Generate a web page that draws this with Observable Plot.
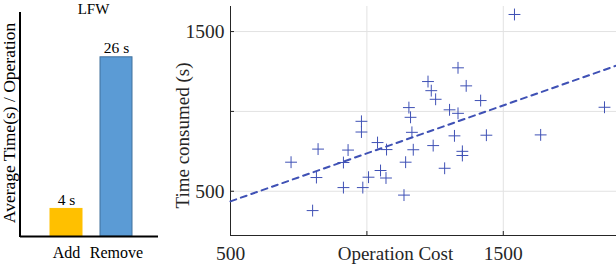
<!DOCTYPE html>
<html><head><meta charset="utf-8">
<script src="https://cdn.jsdelivr.net/npm/d3@7"></script>
<script src="https://cdn.jsdelivr.net/npm/@observablehq/plot@0.6"></script>
<style>
html,body{margin:0;padding:0;background:#fff;}
#wrap{position:relative;width:616px;height:264px;overflow:hidden;font-family:"Liberation Serif",serif;}
#left{position:absolute;left:0;top:0;}
#right{position:absolute;left:160px;top:0;}
</style></head><body><div id="wrap"><div id="left"></div><div id="right"></div></div>
<script>
// ---- Left panel data (LFW) ----
const ops = ["Add", "Remove"];
const avgTime = [4, 26];
const barLabels = ["4 s", "26 s"];
const barColors = ["#FFC000", "#5B9BD5"];
const barStrokes = ["#FFC000", "#41719C"];
const leftTitle = "LFW";
const leftYLabel = "Average Time(s) / Operation";

// ---- Right panel data ----
const opCost = [722, 821, 815, 801, 914, 931, 914, 980, 980, 985, 1006, 1039, 1050, 1070, 1072, 1154, 1160, 1165, 1170, 1142, 1136, 1224, 1236, 1252, 1334, 1364, 1417, 1303, 1334, 1321, 1243, 1350, 1350, 1285, 1438, 1541, 1637, 1871];
const timeConsumed = [682, 764, 586, 379, 680, 758, 523, 938, 871, 523, 588, 805, 630, 583, 761, 1024, 963, 869, 760, 682, 476, 1187, 1130, 1076, 1273, 1160, 1068, 1010, 988, 847, 786, 750, 724, 644, 851, 1607, 853, 1026];
const fitX = [500, 1915];
const fitY = [437, 1287];
const xTicks = [500, 1000, 1500];
const yTicks = [500, 1000, 1500];
const xTickLabels = [500, 1500];
const yTickLabels = [500, 1500];
const xLabel = "Operation Cost";
const yLabel = "Time consumed (s)";

const serif = "'Liberation Serif', 'Times New Roman', serif";

// ---- Left plot ----
const bars = ops.map((op, i) => ({op, v: avgTime[i], label: barLabels[i], fill: barColors[i], stroke: barStrokes[i]}));
const lyMax = 32.5;
const LW = 160, lmL = 20, lmR = 2;
const lFrameW = LW - lmL - lmR;
const left = Plot.plot({
  width: LW, height: 264, marginTop: 12, marginRight: lmR, marginBottom: 28, marginLeft: lmL,
  style: {fontFamily: serif, fontSize: "16px", color: "#000", background: "#fff", overflow: "visible"},
  x: {type: "band", domain: ops, range: [41, 142], paddingInner: 0.356, paddingOuter: 0.178, label: null, tickSize: 0, tickPadding: 10},
  y: {domain: [0, lyMax], axis: null},
  color: {type: "identity"},
  marks: [
    Plot.barY(bars, {x: "op", y: "v", fill: "fill", stroke: "stroke", strokeWidth: 1}),
    Plot.text(bars, {x: "op", y: "v", text: "label", lineAnchor: "bottom", dy: -4, fontSize: 15.5, fill: "#000"}),
    Plot.ruleY([0], {stroke: "#000", strokeWidth: 2.2}),
    Plot.rect([0], {y1: 0, y2: lyMax, fill: "#000", insetLeft: -1, insetRight: lFrameW - 1, insetBottom: -1}),
    Plot.text([leftTitle], {frameAnchor: "top", textAnchor: "middle", lineAnchor: "bottom", dy: 1.5, dx: 4, fontSize: 15, fill: "#000"}),
    Plot.text([leftYLabel], {frameAnchor: "left", textAnchor: "middle", lineAnchor: "middle", rotate: -90, dx: -11.5, dy: -1.5, fontSize: 17.5, fill: "#000"})
  ]
});
document.getElementById("left").appendChild(left);

// ---- Right plot ----
const pts = opCost.map((x, i) => ({x, y: timeConsumed[i]}));
const fit = fitX.map((x, i) => ({x, y: fitY[i]}));
const RW = 456, RH = 264, rmT = 6, rmB = 29, rmL = 70, rmR = 0;
const rFrameW = RW - rmL - rmR, rFrameH = RH - rmT - rmB;
const xDom = [500, 1915], yDom = [223, 1657];
const ink = "#262626", blue = "#3F51B5", grid = "#e2e2e2";
const fmt = d => String(d);
const right = Plot.plot({
  width: RW, height: RH, marginTop: rmT, marginRight: rmR, marginBottom: rmB, marginLeft: rmL,
  style: {fontFamily: serif, fontSize: "19px", color: ink, background: "#fff", overflow: "visible"},
  x: {domain: xDom},
  y: {domain: yDom},
  marks: [
    Plot.gridX(xTicks.filter(d => d !== xDom[0]), {stroke: grid, strokeOpacity: 1}),
    Plot.gridY(yTicks, {stroke: grid, strokeOpacity: 1}),
    Plot.ruleX(xTicks, {insetTop: rFrameH - 4, stroke: ink}),
    Plot.ruleY(yTicks, {insetRight: rFrameW - 4, stroke: ink}),
    Plot.ruleX([xDom[0]], {stroke: ink}),
    Plot.ruleY([yDom[0]], {stroke: ink}),
    Plot.line(fit, {x: "x", y: "y", stroke: blue, strokeWidth: 2, strokeDasharray: "6,5"}),
    Plot.dot(pts, {x: "x", y: "y", symbol: "plus", r: 3.9, stroke: blue, strokeWidth: 1}),
    Plot.axisX(xTickLabels, {tickSize: 0, tickPadding: 11, fontSize: 19.5, label: null, tickFormat: fmt}),
    Plot.axisY(yTickLabels, {tickSize: 0, tickPadding: 6, fontSize: 19.5, label: null, tickFormat: fmt}),
    Plot.text([xLabel], {frameAnchor: "bottom", textAnchor: "middle", lineAnchor: "top", dy: 11, dx: -28, fontSize: 19, fill: ink}),
    Plot.text([yLabel], {frameAnchor: "left", textAnchor: "middle", lineAnchor: "middle", rotate: -90, dx: -48, dy: 14.5, fontSize: 19, fill: ink})
  ]
});
document.getElementById("right").appendChild(right);
</script>
</body></html>
